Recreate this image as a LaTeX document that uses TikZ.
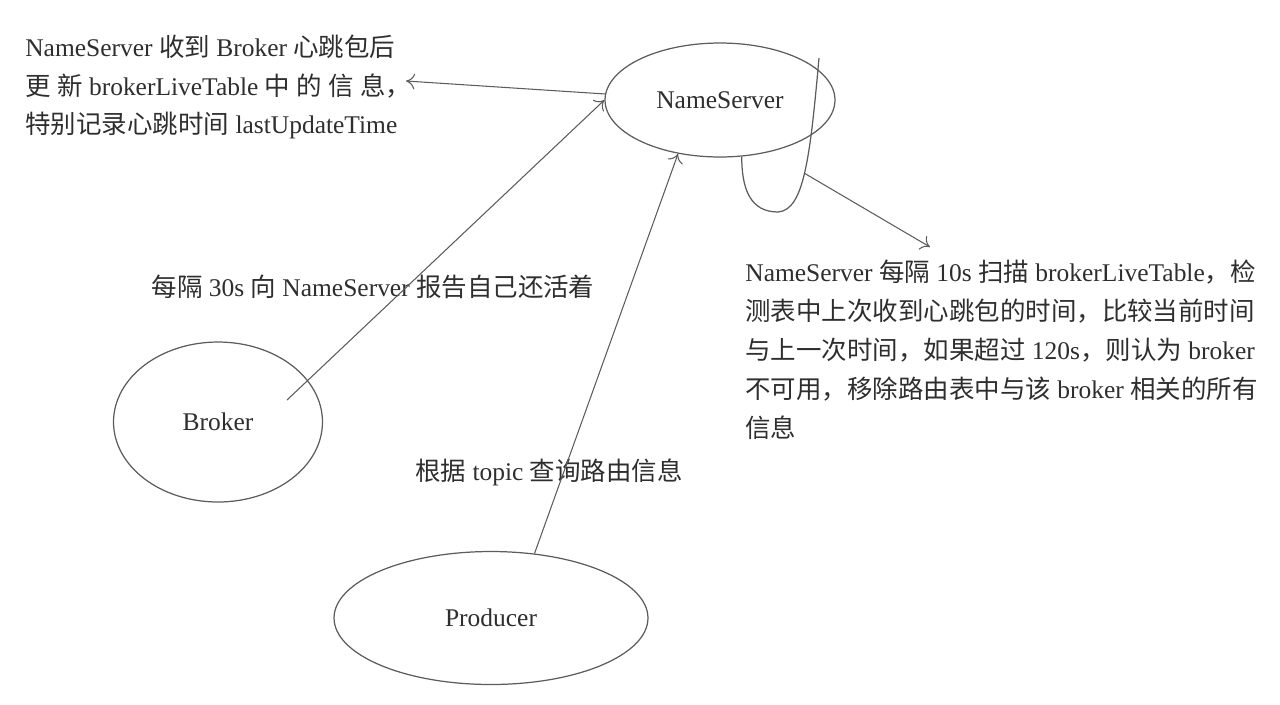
\documentclass[tikz,border=0pt]{standalone}
\usepackage{fontspec}
\setmainfont{Liberation Serif}
\newfontfamily\cjk{Noto Sans CJK SC}
\usetikzlibrary{shapes.geometric,arrows.meta}
\newcommand{\zh}[1]{{\cjk #1}}
\definecolor{inkgray}{HTML}{2E2E2E}
\definecolor{linegray}{HTML}{5C5C5C}
\tikzset{
    role/.style={ellipse, draw=linegray, line width=0.7pt, inner sep=0pt, text=inkgray, font=\fontsize{14.5}{17}\selectfont},
    note/.style={align=left, inner sep=0pt, text=inkgray, font=\fontsize{14.5}{21.8}\selectfont},
    msg/.style={inner sep=0pt, text=inkgray, font=\fontsize{14.5}{17}\selectfont},
    flow/.style={draw=linegray, line width=0.6pt, -{To[length=5pt,width=9pt]}},
    loopline/.style={draw=linegray, line width=0.7pt},
}
\begin{document}
\begin{tikzpicture}[x=0.02cm, y=-0.02cm]
\useasboundingbox (0,0) rectangle (1280,704);

% Nodes
\node[role, minimum width=4.6cm, minimum height=2.28cm] (ns) at (720,100) {NameServer};
\node[role, minimum width=4.18cm, minimum height=3.2cm] (broker) at (218,422) {Broker};
\node[role, minimum width=6.28cm, minimum height=2.66cm] (prod) at (491,618) {Producer};

% Notes
\node[note, anchor=west] (info) at (25,87) {NameServer \zh{收到} Broker \zh{心跳包后}\\
\zh{更} \zh{新} brokerLiveTable \zh{中} \zh{的} \zh{信} \zh{息，}\\
\zh{特别记录心跳时间} lastUpdateTime};
\node[note, anchor=west, font=\fontsize{14.5}{22.2}\selectfont] (scan) at (745,350) {NameServer \zh{每隔} 10s \zh{扫描} brokerLiveTable\zh{，检}\\
\zh{测表中上次收到心跳包的时间，比较当前时间}\\
\zh{与上一次时间，如果超过} 120s\zh{，则认为} broker\\
\zh{不可用，移除路由表中与该} broker \zh{相关的所有}\\
\zh{信息}};
\node[msg] (beat) at (373,287) {\zh{每隔} 30s \zh{向} NameServer \zh{报告自己还活着}};
\node[msg] (route) at (549,472) {\zh{根据} topic \zh{查询路由信息}};

% Free ends
\coordinate (brokerOut) at (287,400);
\coordinate (infoTip) at (406,81);
\coordinate (loopTop) at (819,58);
\coordinate (loopLow) at (778,212);
\coordinate (loopOut) at (804,173);
\coordinate (scanTip) at (930,247);

% Edges
\draw[flow] (brokerOut) -- (ns.west);
\draw[flow] (ns.177) -- (infoTip);
\draw[flow] (prod.56) -- (ns.232);
\draw[loopline] (loopTop) .. controls +(-9,100) and +(26,-2) .. (loopLow)
    .. controls +(-28,0) and +(0,32) .. (ns.291);
\draw[flow] (loopOut) -- (scanTip);

\end{tikzpicture}
\end{document}
